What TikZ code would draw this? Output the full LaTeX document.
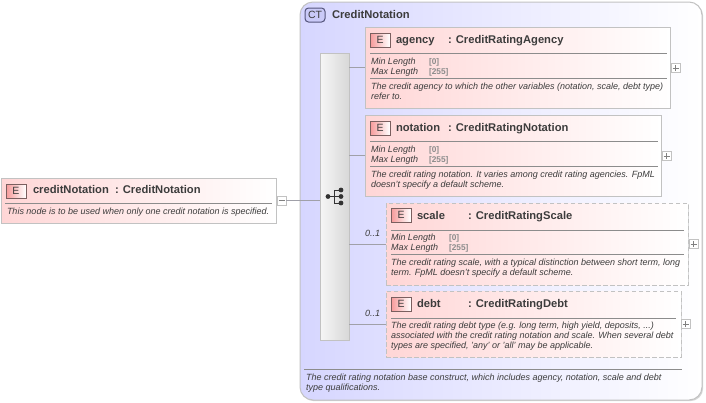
\documentclass[tikz,border=0pt]{standalone}
\usepackage{fontspec}
\setmainfont{Liberation Sans}
\usetikzlibrary{shadows}
\definecolor{bordc}{HTML}{C2C2C2}
\definecolor{linec}{HTML}{A0A0A8}
\definecolor{pinkc}{HTML}{FFD6D6}
\definecolor{txtc}{HTML}{3C3C3C}
\definecolor{graytxt}{HTML}{8C8C8C}
\definecolor{rulec}{HTML}{8C8C8C}
\tikzset{
  x=1pt,y=-1pt,
  every node/.style={outer sep=0pt},
  shade/.style={drop shadow={shadow xshift=1.2pt,shadow yshift=-1.2pt,opacity=.16,fill=black}},
  elbox/.style={rectangle,draw=bordc,line width=.9pt,left color=pinkc,right color=white,anchor=north west,inner sep=0pt,shade},
  optbox/.style={elbox,dash pattern=on 4.5pt off 2.5pt},
  ctbox/.style={rectangle,rounded corners=13pt,draw=bordc,line width=1pt,left color=ctblue,right color=white,anchor=north west,inner sep=0pt,shade},
  seqbox/.style={rectangle,draw=bordc,line width=.8pt,left color=seqa,right color=seqb,anchor=north west,inner sep=0pt,shade},
  ebadge/.style={rectangle,draw=badgec,line width=.8pt,left color=badgea,right color=white,anchor=north west,inner sep=0pt,minimum width=20pt,minimum height=14pt,text=txtc,font=\fontsize{10.5}{12}\selectfont},
  ctbadge/.style={rectangle,rounded corners=3.5pt,draw=ctborder,line width=1pt,fill=ctbadgefill,anchor=north west,inner sep=0pt,minimum width=20pt,minimum height=14pt,text=txtc,font=\fontsize{10.5}{12}\selectfont},
  ttl/.style={anchor=base west,inner sep=0pt,text=txtc,font=\fontsize{11.2}{13}\selectfont\bfseries},
  desc/.style={anchor=north west,inner sep=0pt,align=left,text=txtc,font=\fontsize{9}{10}\selectfont\itshape},
  facet/.style={anchor=base west,inner sep=0pt,text=txtc,font=\fontsize{9}{10}\selectfont\itshape},
  fval/.style={anchor=base west,inner sep=0pt,text=graytxt,font=\fontsize{8.3}{9}\selectfont\bfseries},
  occ/.style={anchor=base west,inner sep=0pt,text=txtc,font=\fontsize{9}{10}\selectfont\itshape},
  conn/.style={draw=linec,line width=.8pt},
  rule/.style={draw=rulec,line width=.8pt},
  togglebox/.style={rectangle,draw=bordc,line width=.7pt,fill=white,inner sep=0pt,minimum width=9pt,minimum height=9pt,anchor=west},
  plusbox/.style={togglebox,path picture={\draw[gray,line width=.6pt] ([xshift=-3pt]path picture bounding box.center)--([xshift=3pt]path picture bounding box.center) ([yshift=-3pt]path picture bounding box.center)--([yshift=3pt]path picture bounding box.center);}},
  minusbox/.style={togglebox,path picture={\draw[gray,line width=.6pt] ([xshift=-3pt]path picture bounding box.center)--([xshift=3pt]path picture bounding box.center);}},
  dotn/.style={circle,fill=black!80,inner sep=0pt,minimum size=4.8pt},
}
\definecolor{ctblue}{HTML}{D6D6FF}
\definecolor{seqa}{HTML}{F6F6F6}
\definecolor{seqb}{HTML}{D8D8D8}
\definecolor{badgea}{HTML}{F69A9A}
\definecolor{badgec}{HTML}{7A5F5F}
\definecolor{ctborder}{HTML}{55557C}
\definecolor{ctbadgefill}{HTML}{CACAF8}
\begin{document}
\begin{tikzpicture}
\useasboundingbox (0,0) rectangle (706,402);
\fill[white] (0,0) rectangle (706,402);
% container
\node[ctbox,minimum width=402pt,minimum height=398pt] (ct) at (300,2) {};
\node[ctbadge] (ctb) at (305,8) {CT};
\node[ttl] (cttitle) at (332,18) {CreditNotation};
\draw[rule] (304,369) -- (682,369);
\node[desc] (ctdesc) at (306,374) {The credit rating notation base construct, which includes agency, notation, scale and debt\\type qualifications.};
% sequence
\node[seqbox,minimum width=29pt,minimum height=287pt] (seq) at (320,53) {};
\node[dotn] (d0) at (328,196.5) {};
\node[dotn] (d1) at (341,190) {};
\node[dotn] (d2) at (341,196.5) {};
\node[dotn] (d3) at (341,203) {};
\coordinate (dm) at (334.5,196.5);
\draw[black!80,line width=1pt] (d0) -- (d2) (d1) -| (dm) (d3) -| (dm);
% root
\node[elbox,minimum width=275pt,minimum height=45pt] (root) at (1,178) {};
\node[ebadge] (rootb) at (6,184) {E};
\node[ttl] (rootn) at (33,193) {creditNotation};
\node[ttl] (roott) at (115,193) {: CreditNotation};
\draw[rule] (5,203) -- (272,203);
\node[desc] (rootd) at (7,207.5) {This node is to be used when only one credit notation is specified.};
\node[minusbox] (rootm) at (277,200.5) {};
% agency
\node[elbox,minimum width=305pt,minimum height=81pt] (agency) at (365,27) {};
\node[ebadge] (agb) at (370,33) {E};
\node[ttl] (agn) at (396,43) {agency};
\node[ttl] (agt) at (448,43) {: CreditRatingAgency};
\draw[rule] (370,53) -- (667,53);
\node[facet] (ag1) at (371,64) {Min Length};
\node[fval] (ag1v) at (429,64) {[0]};
\node[facet] (ag2) at (371,74) {Max Length};
\node[fval] (ag2v) at (429,74) {[255]};
\draw[rule] (370,78) -- (667,78);
\node[desc] (agd) at (371,82.5) {The credit agency to which the other variables (notation, scale, debt type)\\refer to.};
\node[plusbox] (agp) at (671,68) {};
% notation
\node[elbox,minimum width=296pt,minimum height=81pt] (notation) at (365,115) {};
\node[ebadge] (nob) at (370,121) {E};
\node[ttl] (non) at (396,131) {notation};
\node[ttl] (not) at (448,131) {: CreditRatingNotation};
\draw[rule] (370,141) -- (658,141);
\node[facet] (no1) at (371,152) {Min Length};
\node[fval] (no1v) at (429,152) {[0]};
\node[facet] (no2) at (371,162) {Max Length};
\node[fval] (no2v) at (429,162) {[255]};
\draw[rule] (370,166) -- (658,166);
\node[desc] (nod) at (371,170.5) {The credit rating notation. It varies among credit rating agencies. FpML\\doesn't specify a default scheme.};
\node[plusbox] (nop) at (662,156) {};
% scale
\node[optbox,minimum width=302pt,minimum height=82pt] (scale) at (386,203) {};
\node[ebadge] (scb) at (391,208) {E};
\node[ttl] (scn) at (417,219) {scale};
\node[ttl] (sct) at (468,219) {: CreditRatingScale};
\draw[rule] (391,230) -- (684,230);
\node[facet] (sc1) at (391,240) {Min Length};
\node[fval] (sc1v) at (449,240) {[0]};
\node[facet] (sc2) at (391,250) {Max Length};
\node[fval] (sc2v) at (449,250) {[255]};
\draw[rule] (391,254) -- (684,254);
\node[desc] (scd) at (391,259) {The credit rating scale, with a typical distinction between short term, long\\term. FpML doesn't specify a default scheme.};
\node[plusbox] (scp) at (689,244) {};
\node[occ] (sco) at (365,236) {0..1};
% debt
\node[optbox,minimum width=295pt,minimum height=66pt] (debt) at (386,291) {};
\node[ebadge] (deb) at (391,297) {E};
\node[ttl] (den) at (417,307) {debt};
\node[ttl] (det) at (468,307) {: CreditRatingDebt};
\draw[rule] (391,318) -- (676,318);
\node[desc] (ded) at (391,322) {The credit rating debt type (e.g. long term, high yield, deposits, ...)\\associated with the credit rating notation and scale. When several debt\\types are specified, 'any' or 'all' may be applicable.};
\node[plusbox] (dep) at (681,324) {};
\node[occ] (deo) at (365,316) {0..1};
% connectors
\draw[conn] (rootm.east) -- (seq.west |- rootm.east);
\draw[conn] (seq.east |- agency.west) -- (agency.west);
\draw[conn] (seq.east |- notation.west) -- (notation.west);
\draw[conn] (seq.east |- scale.west) -- (scale.west);
\draw[conn] (seq.east |- debt.west) -- (debt.west);
\end{tikzpicture}
\end{document}
